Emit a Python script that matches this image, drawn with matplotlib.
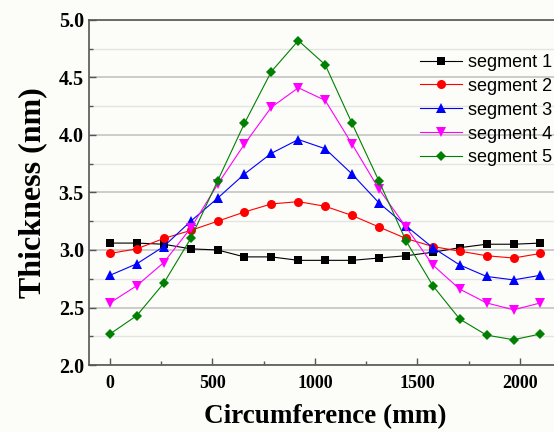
import matplotlib
matplotlib.use('Agg')
import matplotlib.pyplot as plt
from matplotlib.ticker import MultipleLocator, FormatStrFormatter

# circumference positions (mm)
circ = [0, 131, 262, 394, 525, 656, 787, 919, 1050, 1181, 1312, 1444, 1575, 1706, 1837, 1969, 2100]

seg1 = [3.06, 3.06, 3.05, 3.01, 3.00, 2.94, 2.94, 2.91, 2.91, 2.91, 2.93, 2.95, 2.98, 3.02, 3.05, 3.05, 3.06]
seg2 = [2.97, 3.01, 3.10, 3.17, 3.25, 3.33, 3.40, 3.42, 3.38, 3.30, 3.20, 3.10, 3.03, 2.99, 2.95, 2.93, 2.97]
seg3 = [2.78, 2.88, 3.03, 3.25, 3.45, 3.66, 3.84, 3.96, 3.88, 3.66, 3.41, 3.21, 3.02, 2.87, 2.77, 2.74, 2.78]
seg4 = [2.54, 2.69, 2.89, 3.19, 3.57, 3.92, 4.24, 4.41, 4.30, 3.92, 3.53, 3.20, 2.87, 2.66, 2.54, 2.48, 2.54]
seg5 = [2.27, 2.43, 2.71, 3.10, 3.60, 4.10, 4.55, 4.82, 4.61, 4.10, 3.60, 3.08, 2.69, 2.40, 2.26, 2.22, 2.27]

labels = ['segment 1', 'segment 2', 'segment 3', 'segment 4', 'segment 5']
series = [seg1, seg2, seg3, seg4, seg5]
colors = ['black', 'red', 'blue', 'magenta', 'green']
markers = ['s', 'o', '^', 'v', 'D']
sizes = [5.5, 6.5, 7, 7, 5.5]

bg = '#fcfcf8'
fig = plt.figure(figsize=(5.54, 4.32), dpi=100, facecolor=bg)
ax = fig.add_axes([0.1615, 0.155, 0.851, 0.799], facecolor=bg)

for y, lab, c, m, s in zip(series, labels, colors, markers, sizes):
    ax.plot(circ, y, color=c, marker=m, markersize=s, linewidth=0.8,
            markeredgewidth=0, label=lab)

ax.set_xlim(-100, 2200)
ax.set_ylim(2.0, 5.0)
ax.xaxis.set_major_locator(MultipleLocator(500))
ax.xaxis.set_minor_locator(MultipleLocator(250))
ax.yaxis.set_major_locator(MultipleLocator(0.5))
ax.yaxis.set_minor_locator(MultipleLocator(0.25))
ax.yaxis.set_major_formatter(FormatStrFormatter('%.1f'))

ax.grid(True, which='major', axis='y', color='#c4c4c4', linewidth=1.2)
ax.grid(True, which='minor', axis='y', color='#e4e4e4', linewidth=1.0)
ax.set_axisbelow(True)

for sp in ax.spines.values():
    sp.set_color('#555555')
    sp.set_linewidth(1.2)

ax.tick_params(which='major', direction='in', length=5, width=1, color='#555555')
ax.tick_params(which='minor', direction='in', length=3, width=1, color='#555555')
ax.tick_params(axis='x', pad=7)
ax.tick_params(axis='y', pad=4)
for lbl in ax.get_xticklabels():
    lbl.set_fontfamily('Liberation Serif')
    lbl.set_fontweight('bold')
    lbl.set_fontsize(13)
for lbl in ax.get_yticklabels():
    lbl.set_fontfamily('Liberation Serif')
    lbl.set_fontweight('bold')
    lbl.set_fontsize(14.5)

ax.set_xlabel('Circumference (mm)', fontfamily='Liberation Serif', fontweight='bold',
              fontsize=19.5, labelpad=9)
ax.set_ylabel('Thickness (nm)', fontfamily='Liberation Serif', fontweight='bold',
              fontsize=23, labelpad=8)

ax.legend(loc='upper left', bbox_to_anchor=(0.742, 0.896), bbox_transform=fig.transFigure,
          frameon=False, prop={'family': 'Liberation Sans', 'size': 13},
          handlelength=2.33, handletextpad=0.33, labelspacing=0.38, borderpad=0)

fig.savefig('out.png', dpi=100, facecolor=bg)
